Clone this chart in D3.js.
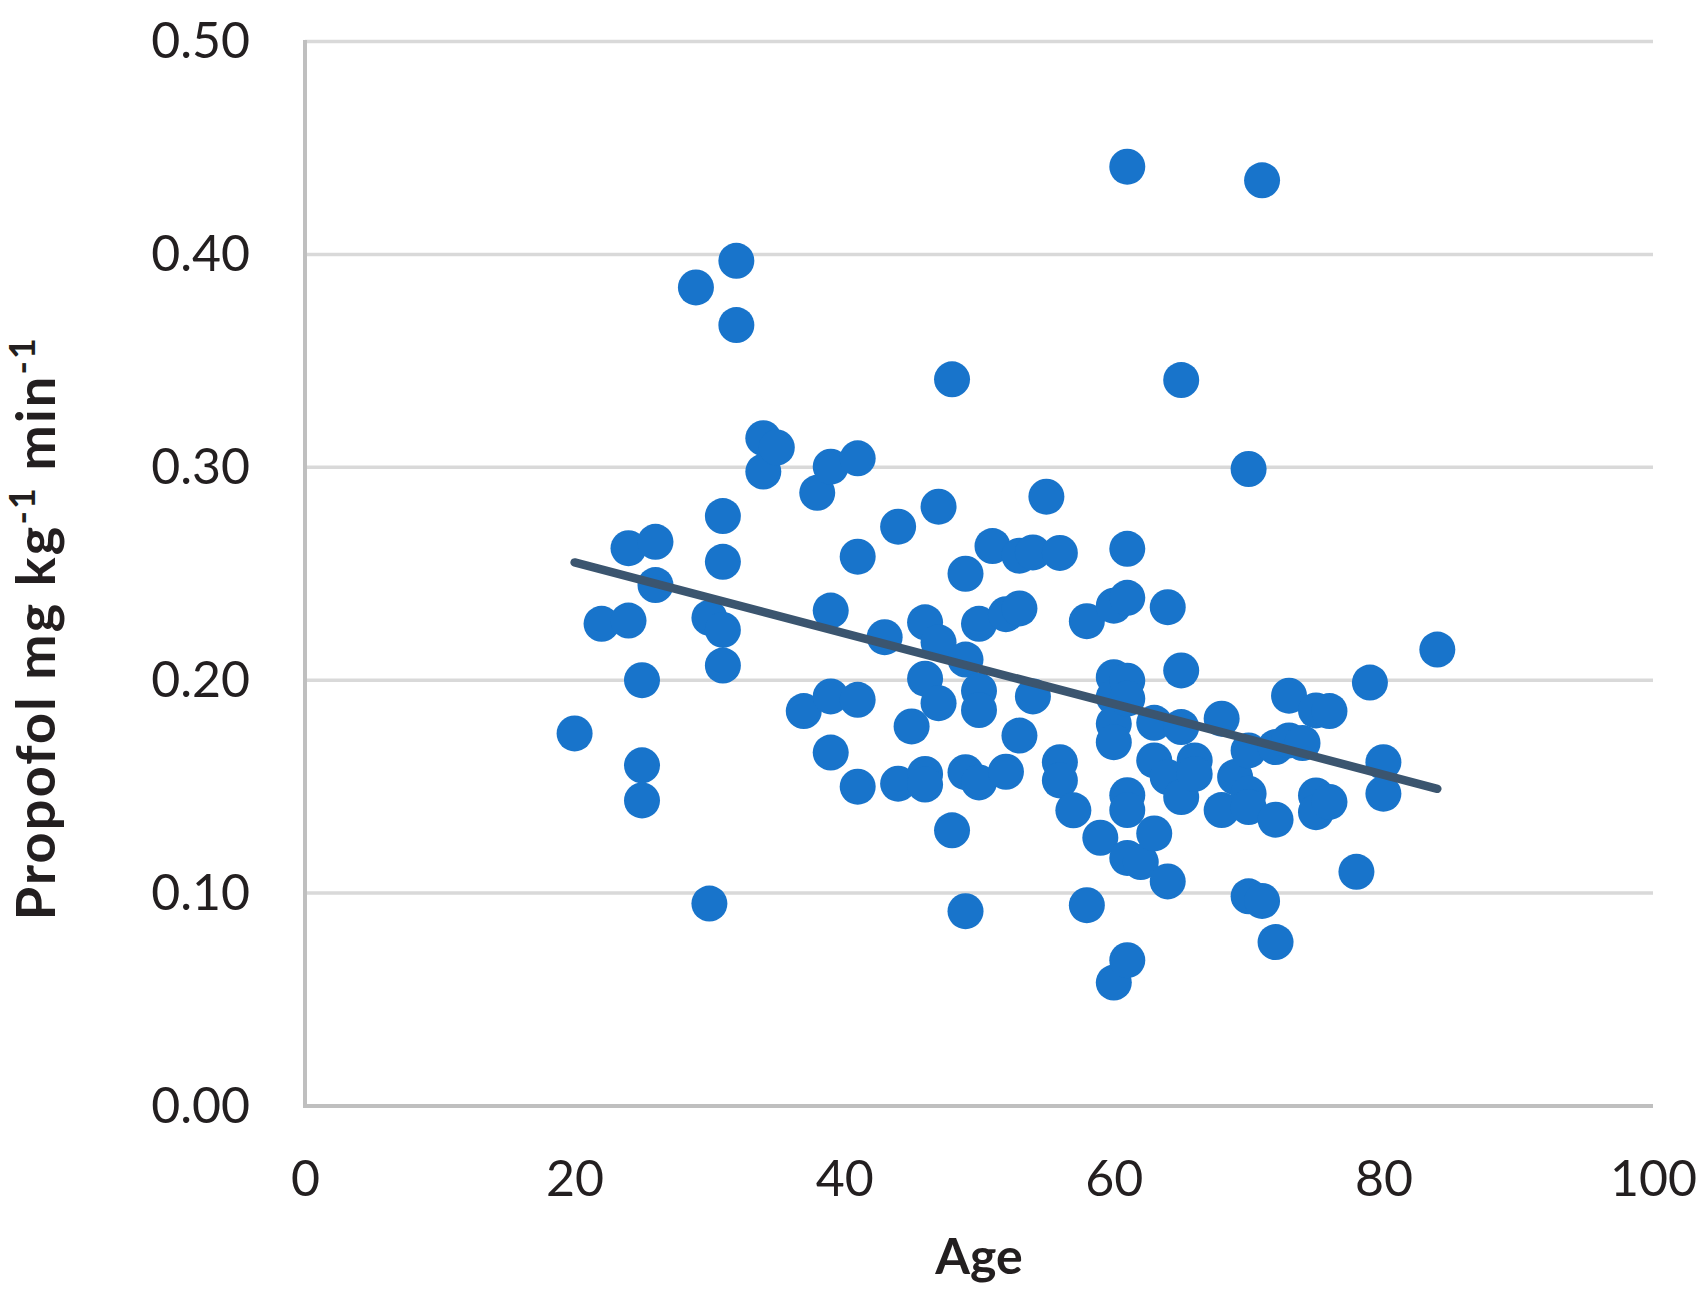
<!DOCTYPE html>
<html>
<head>
<meta charset="utf-8">
<script src="https://cdn.jsdelivr.net/npm/d3@7"></script>
<style>
  html, body { margin: 0; padding: 0; background: #ffffff; }
  svg { display: block; font-family: Lato, "Open Sans", sans-serif; }
</style>
</head>
<body>
<svg id="chart" width="1705" height="1300"></svg>
<script>
// ---- data ----
const ages = [
  20, 22, 24, 24, 25, 25, 25, 26, 26, 29,
  30, 30, 31, 31, 31, 31, 32, 32, 34, 34,
  35, 37, 38, 39, 39, 39, 39, 41, 41, 41,
  41, 43, 44, 44, 45, 46, 46, 46, 46, 47,
  47, 47, 48, 48, 49, 49, 49, 49, 50, 50,
  50, 50, 51, 52, 52, 53, 53, 53, 54, 54,
  55, 56, 56, 56, 57, 58, 58, 59, 60, 60,
  60, 60, 60, 60, 61, 61, 61, 61, 61, 61,
  61, 61, 61, 62, 63, 63, 63, 64, 64, 64,
  65, 65, 65, 65, 66, 66, 68, 68, 69, 70,
  70, 70, 70, 70, 71, 71, 72, 72, 72, 73,
  73, 74, 75, 75, 75, 76, 76, 78, 79, 80,
  80, 84
];
const propofol = [
  0.175, 0.2265, 0.262, 0.228, 0.200, 0.160, 0.1435, 0.265, 0.2447, 0.3845,
  0.2293, 0.0951, 0.2771, 0.2556, 0.2236, 0.2069, 0.397, 0.3668, 0.3137, 0.298,
  0.3093, 0.1855, 0.288, 0.3003, 0.2327, 0.1924, 0.166, 0.3042, 0.258, 0.1908,
  0.150, 0.2202, 0.2721, 0.1514, 0.1783, 0.2272, 0.2007, 0.156, 0.151, 0.2815,
  0.2178, 0.1892, 0.3413, 0.1295, 0.250, 0.2097, 0.1568, 0.0915, 0.2265, 0.195,
  0.186, 0.152, 0.263, 0.231, 0.157, 0.2585, 0.2337, 0.174, 0.260, 0.1924,
  0.2862, 0.2598, 0.1615, 0.1529, 0.1389, 0.2277, 0.0943, 0.126, 0.235, 0.2014,
  0.192, 0.1795, 0.1709, 0.058, 0.4412, 0.2617, 0.2387, 0.1998, 0.1913, 0.146,
  0.139, 0.1165, 0.0685, 0.1146, 0.180, 0.1623, 0.128, 0.2343, 0.1545, 0.1055,
  0.341, 0.2046, 0.178, 0.1451, 0.1623, 0.156, 0.1819, 0.139, 0.1545, 0.2992,
  0.167, 0.1467, 0.1404, 0.0985, 0.4348, 0.0963, 0.1686, 0.1345, 0.077, 0.1927,
  0.1717, 0.1705, 0.1858, 0.1459, 0.138, 0.1855, 0.1428, 0.110, 0.1989, 0.1615,
  0.1467, 0.2144
];
const trendAges = [20, 84];
const trendValues = [0.2553, 0.149];
const xTicks = [0, 20, 40, 60, 80, 100];
const yTicks = [0, 0.1, 0.2, 0.3, 0.4, 0.5];
const xTitle = "Age";

// ---- layout ----
const svg = d3.select("#chart");
const plotL = 305, plotR = 1653, plotT = 41.5, plotB = 1106;
const x = d3.scaleLinear().domain([0, 100]).range([plotL, plotR]);
const y = d3.scaleLinear().domain([0, 0.5]).range([plotB, plotT]);

const textColor = "#231F20";

// gridlines
svg.append("g")
  .selectAll("line")
  .data(yTicks.filter(d => d > 0))
  .join("line")
  .attr("x1", plotL).attr("x2", plotR)
  .attr("y1", d => y(d)).attr("y2", d => y(d))
  .attr("stroke", "#D9D9D9").attr("stroke-width", 3.5);

// y axis labels
const yAxis = svg.append("g")
  .attr("transform", `translate(${plotL},0)`)
  .call(d3.axisLeft(y).tickValues(yTicks).tickFormat(d3.format(".2f")).tickSize(0).tickPadding(55));
yAxis.select(".domain").remove();
yAxis.selectAll("text")
  .attr("font-size", 50).attr("fill", textColor)
  .attr("font-family", "Lato, sans-serif");

// x axis labels
const xAxis = svg.append("g")
  .attr("transform", `translate(0,${plotB})`)
  .call(d3.axisBottom(x).tickValues(xTicks).tickFormat(d3.format("d")).tickSize(0).tickPadding(54));
xAxis.select(".domain").remove();
xAxis.selectAll("text")
  .attr("font-size", 50).attr("fill", textColor)
  .attr("font-family", "Lato, sans-serif");

// axis lines
svg.append("line")
  .attr("x1", plotL).attr("x2", plotL).attr("y1", plotT - 1.5).attr("y2", plotB)
  .attr("stroke", "#BFBFBF").attr("stroke-width", 4);
svg.append("line")
  .attr("x1", plotL - 2).attr("x2", plotR).attr("y1", plotB).attr("y2", plotB)
  .attr("stroke", "#BFBFBF").attr("stroke-width", 4);

// points
svg.append("g")
  .selectAll("circle")
  .data(ages.map((a, i) => [a, propofol[i]]))
  .join("circle")
  .attr("cx", d => x(d[0]))
  .attr("cy", d => y(d[1]))
  .attr("r", 18)
  .attr("fill", "#1874CB");

// trendline
svg.append("path")
  .datum(trendAges.map((a, i) => [a, trendValues[i]]))
  .attr("d", d3.line().x(d => x(d[0])).y(d => y(d[1])))
  .attr("fill", "none")
  .attr("stroke", "#3B556F")
  .attr("stroke-width", 8.5)
  .attr("stroke-linecap", "round");

// x title
svg.append("text")
  .attr("x", (plotL + plotR) / 2).attr("y", 1274)
  .attr("text-anchor", "middle")
  .attr("font-size", 50).attr("font-weight", "bold")
  .attr("fill", textColor)
  .text(xTitle);

// y title with superscripts
const yt = svg.append("text")
  .attr("transform", "translate(55,628) rotate(-90)")
  .attr("text-anchor", "middle")
  .attr("font-size", 54).attr("font-weight", "bold")
  .attr("letter-spacing", 2.2)
  .attr("fill", textColor);
yt.append("tspan").text("Propofol mg kg");
yt.append("tspan").attr("font-size", 36).attr("dy", -20).text("-1");
yt.append("tspan").attr("dy", 20).text(" min");
yt.append("tspan").attr("font-size", 36).attr("dy", -20).text("-1");
</script>
</body>
</html>
